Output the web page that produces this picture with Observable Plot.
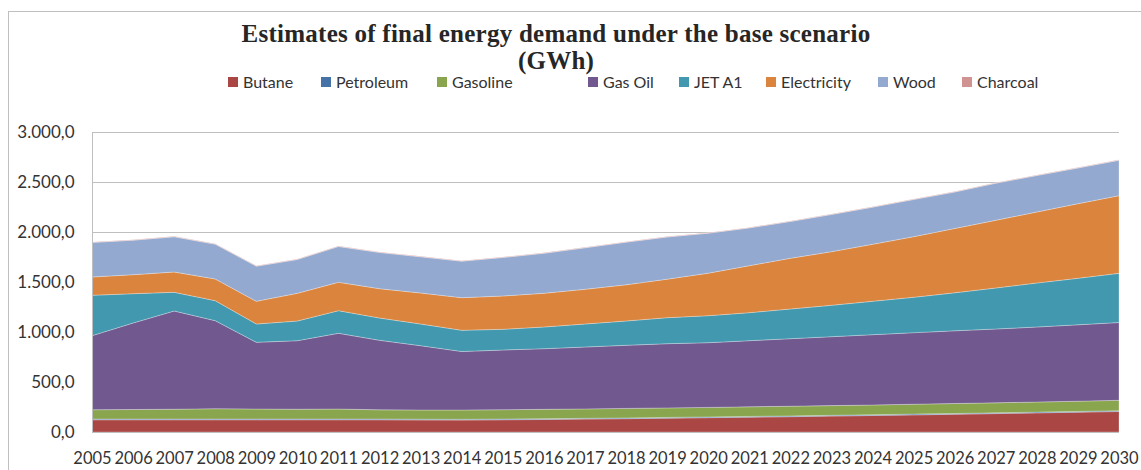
<!DOCTYPE html>
<html>
<head>
<meta charset="utf-8">
<script src="https://cdn.jsdelivr.net/npm/d3@7"></script>
<script src="https://cdn.jsdelivr.net/npm/@observablehq/plot@0.6"></script>
<style>
  html, body { margin: 0; padding: 0; background: #fff; }
  #wrap { position: relative; width: 1141px; height: 470px; overflow: hidden; }
  #frame { position: absolute; left: 8px; top: 11px; width: 1300px; height: 600px; border-left: 1px solid #BFBFBF; border-top: 1px solid #BFBFBF; }
  #title { position: absolute; left: 206px; width: 700px; top: 20px; text-align: center; font-family: "Liberation Serif", serif; font-weight: bold; font-size: 25px; letter-spacing: 0.25px; line-height: 27px; color: #262626; white-space: nowrap; }
  .leg { position: absolute; top: 72px; font-family: Lato, sans-serif; font-size: 16px; line-height: 20px; color: #333; white-space: nowrap; }
  .leg span.sw { position: absolute; left: 0; top: 5px; width: 10px; height: 10px; }
  .leg span.tx { position: absolute; left: 15px; top: 0; }
  #chart { position: absolute; left: 0; top: 110px; }
</style>
</head>
<body>
<div id="wrap">
  <div id="frame"></div>
  <div id="title">Estimates of final energy demand under the base scenario<br>(GWh)</div>
  <div id="legend"></div>
  <div id="chart"></div>
</div>
<script>
const years = [2005, 2006, 2007, 2008, 2009, 2010, 2011, 2012, 2013, 2014, 2015, 2016, 2017,
               2018, 2019, 2020, 2021, 2022, 2023, 2024, 2025, 2026, 2027, 2028, 2029, 2030];

const seriesNames = ["Butane", "Petroleum", "Gasoline", "Gas Oil", "JET A1", "Electricity", "Wood", "Charcoal"];

const butane      = [122, 122, 122, 122, 122, 122, 122, 122, 120, 119, 122, 125, 129, 133, 138, 143, 148, 153, 159, 165, 171, 177, 184, 191, 198, 205];
const petroleum   = [8, 8, 8, 8, 8, 8, 8, 8, 8, 8, 8, 8, 8, 8, 8, 8, 8, 8, 8, 8, 8, 8, 8, 8, 8, 8];
const gasoline    = [93, 95, 98, 103, 100, 98, 100, 92, 92, 93, 93, 94, 94, 95, 95, 95, 96, 97, 97, 97, 99, 100, 100, 101, 102, 104];
const gasOil      = [740, 865, 982, 880, 667, 685, 757, 695, 643, 585, 597, 606, 619, 631, 642, 647, 661, 675, 689, 703, 715, 727, 738, 750, 764, 778];
const jetA1       = [404, 293, 187, 200, 183, 197, 226, 223, 217, 212, 207, 217, 230, 243, 260, 270, 280, 297, 314, 334, 354, 380, 410, 440, 465, 492];
const electricity = [183, 190, 203, 217, 227, 277, 284, 293, 310, 326, 333, 337, 347, 362, 385, 425, 470, 507, 536, 570, 606, 643, 677, 710, 746, 776];
const wood        = [345, 345, 352, 348, 351, 338, 358, 362, 362, 365, 385, 400, 415, 426, 422, 400, 378, 368, 372, 371, 372, 365, 371, 365, 357, 354];
const charcoal    = [5, 5, 5, 5, 5, 5, 5, 5, 5, 5, 5, 5, 5, 5, 5, 5, 5, 5, 5, 5, 5, 5, 5, 5, 5, 5];

const yTicks = [0, 500, 1000, 1500, 2000, 2500, 3000];

const seriesColors = ["#AA4643", "#4572A7", "#89A54E", "#71588F", "#4198AF", "#DB843D", "#93A9CF", "#D19392"];

const seriesValues = [butane, petroleum, gasoline, gasOil, jetA1, electricity, wood, charcoal];
const table = seriesNames.flatMap((name, i) =>
  years.map((year, j) => ({year, series: name, value: seriesValues[i][j]})));

const locale = d3.formatLocale({decimal: ",", thousands: ".", grouping: [3], currency: ["", "€"]});
const fmt = locale.format(",.1f");

// Legend
const legendX = [228, 321, 437, 588, 679, 766, 878, 962];
const legend = document.getElementById("legend");
seriesNames.forEach((name, i) => {
  const d = document.createElement("div");
  d.className = "leg";
  d.style.left = legendX[i] + "px";
  d.innerHTML = `<span class="sw" style="background:${seriesColors[i]}"></span><span class="tx">${name}</span>`;
  legend.appendChild(d);
});

const chart = Plot.plot({
  width: 1141,
  height: 360,
  marginTop: 22,
  marginBottom: 38,
  marginLeft: 92,
  marginRight: 22,
  x: {type: "linear", domain: [2005, 2030]},
  y: {domain: [0, 3000]},
  color: {domain: seriesNames, range: seriesColors},
  style: {fontFamily: "Lato, sans-serif", fontSize: "16px", color: "#333", background: "transparent"},
  marks: [
    Plot.gridY(yTicks, {stroke: "#BFBFBF", strokeOpacity: 1}),
    Plot.areaY(table, {x: "year", y: "value", z: "series", fill: "series", order: seriesNames,
                       stroke: "#ffffff", strokeOpacity: 0.35, strokeWidth: 0.8}),
    Plot.ruleX([2005], {stroke: "#BFBFBF"}),
    Plot.ruleY([0], {stroke: "#BFBFBF"}),
    Plot.axisY(yTicks, {tickSize: 0, tickPadding: 18, tickFormat: fmt, fontSize: 17, label: null}),
    Plot.axisX(years, {tickSize: 0, tickPadding: 20, tickFormat: d => String(d), fontSize: 16.5, label: null})
  ]
});
document.getElementById("chart").appendChild(chart);
</script>
</body>
</html>
